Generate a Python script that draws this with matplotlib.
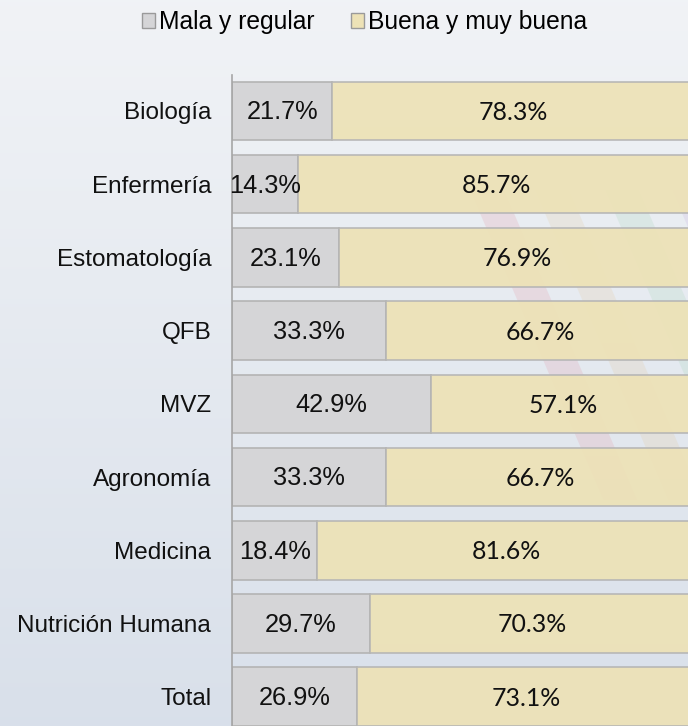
import matplotlib
matplotlib.use('agg')
import matplotlib.pyplot as plt
import numpy as np
from matplotlib.patches import Polygon, Patch

carreras = ['Biología', 'Enfermería', 'Estomatología', 'QFB', 'MVZ',
            'Agronomía', 'Medicina', 'Nutrición Humana', 'Total']
mala = [21.7, 14.3, 23.1, 33.3, 42.9, 33.3, 18.4, 29.7, 26.9]
buena = [78.3, 85.7, 76.9, 66.7, 57.1, 66.7, 81.6, 70.3, 73.1]
series_names = ['Mala y regular', 'Buena y muy buena']

gris = '#d5d5d7'
amarillo = '#ede2b6'
borde = '#b4b4b4'

W, H = 688, 726
fig = plt.figure(figsize=(W / 100, H / 100), dpi=100)

# slide background: soft vertical gradient plus faint diagonal stripes
bg = fig.add_axes([0, 0, 1, 1], zorder=0)
grad = np.linspace(0, 1, 256).reshape(-1, 1)
top = np.array([0.945, 0.953, 0.965])
bot = np.array([0.850, 0.878, 0.918])
img = top + (bot - top) * grad[..., None]
bg.imshow(img, aspect='auto', extent=[0, 1, 0, 1], origin='upper')
bg.set_xlim(0, 1)
bg.set_ylim(0, 1)
bg.axis('off')

stripes = [(470, '#e39aa8'), (535, '#e3c9a0'), (605, '#a8d6b8'), (672, '#c9b0dc')]
for x0, c in stripes:
    y0, y1 = 190, 500
    dx = (y1 - y0) * 0.43
    pts = [(x0, y0), (x0 + 34, y0), (x0 + 34 + dx, y1), (x0 + dx, y1)]
    pts = [(px / W, 1 - py / H) for px, py in pts]
    bg.add_patch(Polygon(pts, closed=True, facecolor=c, edgecolor='none', alpha=0.22))

ax = fig.add_axes([232 / W, 0, 463 / W, 651 / H], zorder=1)
ax.patch.set_alpha(0)
y = np.arange(len(carreras))

ax.barh(y, mala, height=0.8, color=gris, edgecolor=borde, linewidth=1.2, zorder=2)
ax.barh(y, buena, left=mala, height=0.8, color=amarillo, edgecolor=borde,
        linewidth=1.2, alpha=0.92, zorder=2)

for i in range(len(carreras)):
    ax.text(mala[i] / 2, y[i] + 0.02, f'{mala[i]:.1f}%', ha='center', va='center',
            fontsize=18.3, family='Liberation Sans', color='#111111', zorder=3)
    ax.text(mala[i] + buena[i] / 2, y[i] + 0.02, f'{buena[i]:.1f}%', ha='center',
            va='center', fontsize=17.9, family='Lato', color='#111111', zorder=3)

ax.set_xlim(0, 100)
ax.set_ylim(8.4, -0.49)
ax.set_yticks(y)
ax.set_yticklabels(carreras, fontsize=17.5, family='Liberation Sans', color='#111111')
ax.tick_params(axis='y', length=0, pad=15)
ax.set_xticks([])
for s in ['top', 'right', 'bottom']:
    ax.spines[s].set_visible(False)
ax.spines['left'].set_color('#a6a6a6')
ax.spines['left'].set_linewidth(1.2)

handles = [Patch(facecolor=gris, edgecolor='#9a9a9a'),
           Patch(facecolor=amarillo, edgecolor='#9a9a9a')]
fig.legend(handles, series_names, loc='center', bbox_to_anchor=(364.5 / W, 1 - 22 / H),
           ncol=2, frameon=False, prop={'family': 'Liberation Sans', 'size': 17.7},
           handlelength=0.53, handleheight=0.53, handletextpad=0.16, columnspacing=1.46,
           borderpad=0, borderaxespad=0)

fig.savefig('out.png', dpi=100)
